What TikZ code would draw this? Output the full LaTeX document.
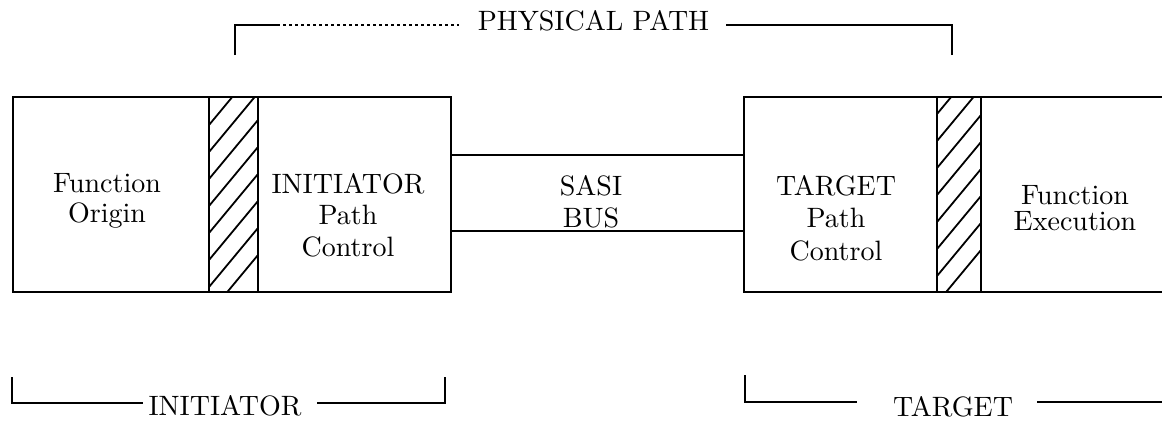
\documentclass[tikz,border=0pt]{standalone}
\usepackage{fontspec}
\setmainfont{lmroman10-regular.otf}
\begin{document}
\begin{tikzpicture}[x=1pt,y=-1pt,
  box/.style={draw, line width=2.8pt, inner sep=0pt, outer sep=0pt, minimum height=195pt},
  boxtext/.style={align=center, inner sep=0pt, anchor=base},
  brlabel/.style={inner sep=0pt, anchor=base, font=\fontsize{28}{32}\selectfont},
  bracket/.style={line width=2.2pt},
  bus/.style={line width=2.2pt},
  hatch/.style={line width=1.8pt},
]
\useasboundingbox (0,0) rectangle (1162,421);
\fill[white] (0,0) rectangle (1162,421);

% initiator unit: function origin | interface strip | path control
\node[box, minimum width=196pt] (origin) at (111,194.5) {};
\node[box, minimum width=49pt]  (hatchL) at (233.5,194.5) {};
\node[box, minimum width=193pt] (ictrl)  at (354.5,194.5) {};

% target unit: path control | interface strip | function execution (open to the right)
\node[box, minimum width=193pt] (tctrl)  at (840.5,194.5) {};
\node[box, minimum width=44pt]  (hatchR) at (959,194.5) {};
\node[inner sep=0pt, outer sep=0pt, minimum width=181pt, minimum height=195pt] (exec) at (1071.5,194.5) {};
\draw[line width=2.8pt] (hatchR.north east) -- (exec.north east);
\draw[line width=2.8pt] (hatchR.south east) -- (exec.south east);

% hatching of the interface strips
\begin{scope}
  \clip (hatchL.south west) rectangle (hatchL.north east);
  \foreach \k in {0,...,9} \draw[hatch] (209,71+27*\k) -- ++(49,-59);
\end{scope}
\begin{scope}
  \clip (hatchR.south west) rectangle (hatchR.north east);
  \foreach \k in {0,...,9} \draw[hatch] (937,303-27*\k) -- ++(44,-53);
\end{scope}

% box texts (positioned at the baseline of their last line)
\node[boxtext, font=\fontsize{28}{30}\selectfont]   (tOrigin) at (107,222)  {Function\\Origin};
\node[boxtext, font=\fontsize{28}{31.5}\selectfont] (tIctrl)  at (348,256)  {INITIATOR\\Path\\Control};
\node[boxtext, font=\fontsize{28}{32}\selectfont]   (tBus)    at (591,227)  {SASI\\BUS};
\node[boxtext, font=\fontsize{28}{32.5}\selectfont] (tTctrl)  at (836,260)  {TARGET\\Path\\Control};
\node[boxtext, font=\fontsize{28}{26}\selectfont]   (tExec)   at (1075,230) {Function\\Execution};

% SASI bus lines
\draw[bus] ([yshift=39.5pt]ictrl.east) -- ([yshift=39.5pt]tctrl.west);
\draw[bus] ([yshift=-36.5pt]ictrl.east) -- ([yshift=-36.5pt]tctrl.west);

% physical path bracket
\node[brlabel] (phys) at (593.5,30) {PHYSICAL PATH};
\coordinate (pa) at (235,55);
\coordinate (pb) at (952,55);
\coordinate (py) at (0,25);
\draw[line width=1.2pt, dash pattern=on 3pt off 3pt] (pa |- py) -- ([xshift=-19pt]phys.west |- py);
\draw[bracket] (pa) |- ([xshift=43pt]pa |- py);
\draw[bracket] (pb) |- ([xshift=17pt]phys.east |- py);

% initiator bracket
\node[brlabel] (ini) at (225,415) {INITIATOR};
\coordinate (ia) at (12,377);
\coordinate (ib) at (445,377);
\coordinate (iy) at (0,403);
\draw[bracket] (ia) |- ([xshift=-5pt]ini.west |- iy);
\draw[bracket] (ib) |- ([xshift=15pt]ini.east |- iy);

% target bracket
\node[brlabel] (tgt) at (953,416) {TARGET};
\coordinate (ta) at (745,375);
\coordinate (ty) at (0,402);
\coordinate (tz) at (1162,402);
\draw[bracket] (ta) |- ([xshift=-36pt]tgt.west |- ty);
\draw[bracket] ([xshift=24pt]tgt.east |- ty) -- (tz);
\end{tikzpicture}
\end{document}
